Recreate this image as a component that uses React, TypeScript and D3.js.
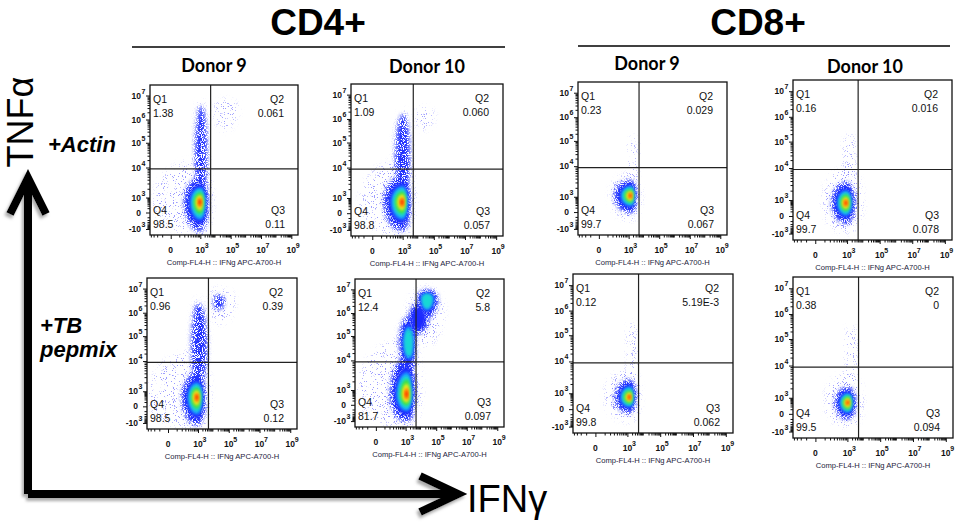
import { useEffect, useRef } from 'react';
import * as d3 from 'd3';

// one cell population: [ifngMin, ifngCore, ifngMax, tnfMin, tnfCore, tnfMax, densityLevel]
type Pop = [number, number, number, number, number, number, number];

const groups = ['CD4+', 'CD8+'];
const donors = ['Donor 9', 'Donor 10'];
const conditions = [['+Actin'], ['+TB', 'pepmix']];
const xTicks = [0, 1e3, 1e5, 1e7, 1e9];
const xTickExp = ['', '3', '5', '7', '9'];
const yTicks = [-1e3, 0, 1e3, 1e4, 1e5, 1e6, 1e7];
const yTickExp = ['3', '', '3', '4', '5', '6', '7'];
const axisTitle = 'Comp-FL4-H :: IFNg APC-A700-H';

// panels: CD4 D9, CD4 D10, CD8 D9, CD8 D10 (actin row), then the same for TB pepmix
const q1Values = ['1.38', '1.09', '0.23', '0.16', '0.96', '12.4', '0.12', '0.38'];
const q2Values = ['0.061', '0.060', '0.029', '0.016', '0.39', '5.8', '5.19E-3', '0'];
const q3Values = ['0.11', '0.057', '0.067', '0.078', '0.12', '0.097', '0.062', '0.094'];
const q4Values = ['98.5', '98.8', '99.7', '99.7', '98.5', '81.7', '99.8', '99.5'];

const ifngGate = 5000;
const tnfGate = 9000;

const cd4Donor9Actin: Pop[] = [
  [-300, 1000, 6000, -2500, 435, 20000, 0],
  [580, 1100, 3300, 1500, 2e4, 6.5e6, 1],
  [9300, 34000, 3e5, 3.5e5, 3.2e6, 6.5e6, 0],
  [150, 1000, 4300, -2500, 435, 5700, 6],
];
const cd4Donor10Actin: Pop[] = [
  [-150, 1000, 6000, -2500, 480, 20000, 0],
  [470, 1100, 3400, 1500, 2e4, 2.5e6, 1],
  [7500, 18000, 1e5, 3.5e5, 1.5e6, 2.8e6, 0],
  [105, 1000, 3900, -2000, 480, 7000, 6],
];
const cd8Donor9Actin: Pop[] = [
  [160, 1450, 6000, -220, 1100, 5700, 0],
  [1000, 2000, 3900, 3000, 4e4, 1.6e5, 0],
  [195, 1450, 3900, -60, 1100, 4200, 6],
];
const cd8Donor10Actin: Pop[] = [
  [80, 1000, 9300, -850, 600, 1e4, 0],
  [760, 1600, 3300, 4000, 4e4, 2e5, 0],
  [200, 930, 3900, -290, 600, 4400, 6],
];
const cd4Donor9Tb: Pop[] = [
  [-400, 930, 6000, -2500, 320, 25000, 0],
  [500, 1100, 4800, 1500, 3e4, 4e6, 1],
  [6000, 17000, 2.5e5, 3.5e5, 3e6, 1e7, 0],
  [10000, 20000, 60000, 1.2e6, 3e6, 6e6, 1],
  [160, 930, 3900, -2500, 320, 5200, 6],
];
const cd4Donor10Tb: Pop[] = [
  [-330, 1250, 11000, -2500, 435, 8e4, 0],
  [1600, 18000, 3e5, 4e4, 1.5e6, 1.2e7, 0],
  [500, 1800, 5500, 3000, 6e4, 1e6, 3],
  [1500, 6000, 40000, 1e5, 6e5, 3e6, 2],
  [5000, 25000, 1.6e5, 5e5, 4e6, 1.1e7, 3],
  [160, 1250, 5300, -2000, 435, 2e4, 6],
];
const cd8Donor9Tb: Pop[] = [
  [105, 1450, 6000, -450, 500, 5700, 0],
  [1000, 2000, 3900, 3000, 4e4, 3.5e5, 0],
  [265, 1450, 3900, -130, 500, 3200, 6],
];
const cd8Donor10Tb: Pop[] = [
  [105, 1100, 9300, -450, 435, 5700, 0],
  [880, 1600, 3900, 3000, 4e4, 3.5e5, 0],
  [275, 1100, 3900, -180, 435, 2500, 6],
];

const populations = [
  cd4Donor9Actin, cd4Donor10Actin, cd8Donor9Actin, cd8Donor10Actin,
  cd4Donor9Tb, cd4Donor10Tb, cd8Donor9Tb, cd8Donor10Tb,
];

// plot frames [x, y, w, h]
const frames = [
  [150, 85, 148, 150], [351, 84, 152, 152], [578, 82, 149, 153], [793, 80, 159, 160],
  [147, 278, 150, 151], [355, 279, 149, 148], [573, 274, 160, 159], [793, 277, 160, 161],
];
const xFrac = [0.14, 0.34, 0.545, 0.75, 0.955];
const yFrac = [0.96, 0.85, 0.75, 0.55, 0.385, 0.23, 0.07];

// biexponential-ish display transform
const biex = (v: number) => Math.sign(v) * Math.log10(1 + Math.abs(v) / 100);

const densityLayers = [
  { min: 1, k: 0.9, fill: '#2434ff', filter: 'url(#speckleDense)' },
  { min: 2, k: 0.68, fill: '#1a2cff', filter: 'url(#soft)' },
  { min: 3, k: 0.54, fill: '#1a9cff', filter: 'url(#soft)' },
  { min: 3, k: 0.45, fill: '#12d8d4', filter: 'url(#soft)' },
  { min: 4, k: 0.36, fill: '#3ce040', filter: 'url(#soft)' },
  { min: 5, k: 0.26, fill: '#f2f020', filter: 'url(#soft)' },
  { min: 6, k: 0.17, fill: '#ff8a00', filter: 'url(#soft)' },
  { min: 6, k: 0.09, fill: '#ff1e00', filter: 'url(#soft)' },
];

const FONT = 'Liberation Sans, Arial, sans-serif';

export default function App() {
  const svgRef = useRef<SVGSVGElement>(null);

  useEffect(() => {
    if (!svgRef.current) return;
    const svg = d3.select(svgRef.current);
    svg.selectAll('*').remove();

    const defs = svg.append('defs');

    const speckle = (id: string, slope: number, offset: number, blur: number) => {
      const f = defs.append('filter').attr('id', id)
        .attr('x', '-30%').attr('y', '-30%').attr('width', '160%').attr('height', '160%')
        .attr('color-interpolation-filters', 'sRGB');
      f.append('feGaussianBlur').attr('in', 'SourceGraphic').attr('stdDeviation', blur).attr('result', 'b');
      f.append('feTurbulence').attr('type', 'fractalNoise').attr('baseFrequency', 1.1)
        .attr('numOctaves', 2).attr('seed', 4).attr('result', 'n');
      f.append('feColorMatrix').attr('in', 'n').attr('type', 'matrix')
        .attr('values', `0 0 0 0 0  0 0 0 0 0  0 0 0 0 0  ${slope} 0 0 0 ${offset}`).attr('result', 'm');
      f.append('feComposite').attr('in', 'b').attr('in2', 'm').attr('operator', 'in');
    };
    speckle('speckleSparse', 20, -12.8, 3);
    speckle('speckleDense', 14, -5.8, 2);

    defs.append('filter').attr('id', 'soft')
      .attr('x', '-40%').attr('y', '-40%').attr('width', '180%').attr('height', '180%')
      .append('feGaussianBlur').attr('stdDeviation', 1.6);

    const shadow = defs.append('filter').attr('id', 'shadow')
      .attr('x', '-20%').attr('y', '-20%').attr('width', '140%').attr('height', '140%');
    shadow.append('feDropShadow').attr('dx', -2).attr('dy', 3).attr('stdDeviation', 1.5)
      .attr('flood-color', '#888').attr('flood-opacity', 0.7);

    // Panels
    frames.forEach(([x0, y0, w, h], i) => {
      const xs = d3.scaleLinear().domain(xTicks.map(biex)).range(xFrac.map(f => x0 + f * w));
      const ys = d3.scaleLinear().domain(yTicks.map(biex)).range(yFrac.map(f => y0 + f * h));
      const X = (v: number) => xs(biex(v));
      const Y = (v: number) => ys(biex(v));

      const g = svg.append('g');
      defs.append('clipPath').attr('id', `clip${i}`)
        .append('rect').attr('x', x0).attr('y', y0).attr('width', w).attr('height', h);
      const plot = g.append('g').attr('clip-path', `url(#clip${i})`);

      plot.append('rect').attr('x', x0).attr('y', y0).attr('width', w).attr('height', h).attr('fill', '#fff');

      populations[i].forEach(([a, cxv, b, c, cyv, d, lvl]) => {
        const cx = X(cxv), cy = Y(cyv);
        const L = cx - X(a), R = X(b) - cx, T = cy - Y(d), B = Y(c) - cy;
        const shape = (k: number) =>
          `M${cx + R * k},${cy}` +
          `A${R * k},${T * k} 0 0 0 ${cx},${cy - T * k}` +
          `A${L * k},${T * k} 0 0 0 ${cx - L * k},${cy}` +
          `A${L * k},${B * k} 0 0 0 ${cx},${cy + B * k}` +
          `A${R * k},${B * k} 0 0 0 ${cx + R * k},${cy}Z`;
        plot.append('path').attr('d', shape(1)).attr('fill', '#4a4aff')
          .attr('opacity', 0.55).attr('filter', 'url(#speckleSparse)');
        densityLayers.filter(l => lvl >= l.min).forEach(l => {
          plot.append('path').attr('d', shape(l.k)).attr('fill', l.fill).attr('filter', l.filter);
        });
      });

      // quadrant gates
      plot.append('line').attr('x1', X(ifngGate)).attr('x2', X(ifngGate))
        .attr('y1', y0).attr('y2', y0 + h).attr('stroke', '#222').attr('stroke-width', 1.2);
      plot.append('line').attr('x1', x0).attr('x2', x0 + w)
        .attr('y1', Y(tnfGate)).attr('y2', Y(tnfGate)).attr('stroke', '#222').attr('stroke-width', 1.2);

      g.append('rect').attr('x', x0).attr('y', y0).attr('width', w).attr('height', h)
        .attr('fill', 'none').attr('stroke', '#111').attr('stroke-width', 1.3);

      // axes (major + minor ticks)
      const xMinor: number[] = [];
      for (let v = -400; v < 0; v += 100) xMinor.push(v);
      for (let v = 100; v < 1000; v += 100) xMinor.push(v);
      for (let k = 3; k < 9; k++) for (let m = 2; m < 10; m++) xMinor.push(m * 10 ** k);
      const yMinor: number[] = [];
      for (let v = -900; v < 0; v += 100) yMinor.push(v);
      for (let v = 100; v < 1000; v += 100) yMinor.push(v);
      for (let k = 3; k < 7; k++) for (let m = 2; m < 10; m++) yMinor.push(m * 10 ** k);

      const inX = (v: number) => X(v) >= x0 && X(v) <= x0 + w;
      const inY = (v: number) => Y(v) >= y0 && Y(v) <= y0 + h;

      const styleAxis = (s: d3.Selection<SVGGElement, unknown, null, undefined>) => {
        s.select('.domain').remove();
        s.selectAll('.tick line').attr('stroke', '#111').attr('stroke-width', 1);
      };
      g.append('g').attr('transform', `translate(0,${y0 + h})`)
        .call(d3.axisBottom(xs).tickValues(xTicks.map(biex)).tickSize(4).tickFormat(() => ''))
        .call(styleAxis);
      g.append('g').attr('transform', `translate(0,${y0 + h})`)
        .call(d3.axisBottom(xs).tickValues(xMinor.filter(inX).map(biex)).tickSize(2.5).tickFormat(() => ''))
        .call(styleAxis);
      g.append('g').attr('transform', `translate(${x0},0)`)
        .call(d3.axisLeft(ys).tickValues(yTicks.map(biex)).tickSize(4).tickFormat(() => ''))
        .call(styleAxis);
      g.append('g').attr('transform', `translate(${x0},0)`)
        .call(d3.axisLeft(ys).tickValues(yMinor.filter(inY).map(biex)).tickSize(2.5).tickFormat(() => ''))
        .call(styleAxis);

      // tick labels
      xTicks.forEach((v, j) => {
        const tx = X(v);
        g.append('text').attr('x', tx).attr('y', y0 + h + 18).attr('text-anchor', 'middle')
          .attr('font-family', FONT).attr('font-size', 8.5).attr('font-weight', 'bold').attr('fill', '#111')
          .text(v === 0 ? '0' : '10');
        if (xTickExp[j]) {
          g.append('text').attr('x', tx + 4.5).attr('y', y0 + h + 13)
            .attr('font-family', FONT).attr('font-size', 7).attr('font-weight', 'bold').attr('fill', '#111')
            .text(xTickExp[j]);
        }
      });
      yTicks.forEach((v, j) => {
        const ty = Y(v);
        g.append('text').attr('x', x0 - 9).attr('y', ty + 3).attr('text-anchor', 'end')
          .attr('font-family', FONT).attr('font-size', 8.5).attr('font-weight', 'bold').attr('fill', '#111')
          .text(v === 0 ? '0' : v < 0 ? '-10' : '10');
        if (yTickExp[j]) {
          g.append('text').attr('x', x0 - 8.5).attr('y', ty - 2)
            .attr('font-family', FONT).attr('font-size', 7).attr('font-weight', 'bold').attr('fill', '#111')
            .text(yTickExp[j]);
        }
      });

      g.append('text').attr('x', x0 + w * 0.5).attr('y', y0 + h + 30).attr('text-anchor', 'middle')
        .attr('font-family', FONT).attr('font-size', 7.6).attr('fill', '#1c1c3c')
        .text(axisTitle);

      // quadrant labels
      const qText = (x: number, y: number, anchor: string, t: string) =>
        g.append('text').attr('x', x).attr('y', y).attr('text-anchor', anchor)
          .attr('font-family', FONT).attr('font-size', 10.5).attr('fill', '#111').text(t);
      qText(x0 + 3, y0 + 18, 'start', 'Q1');
      qText(x0 + 3, y0 + 32, 'start', q1Values[i]);
      qText(x0 + w - 14, y0 + 18, 'end', 'Q2');
      qText(x0 + w - 14, y0 + 32, 'end', q2Values[i]);
      qText(x0 + w - 13, y0 + h - 21, 'end', 'Q3');
      qText(x0 + w - 13, y0 + h - 7, 'end', q3Values[i]);
      qText(x0 + 3, y0 + h - 21, 'start', 'Q4');
      qText(x0 + 3, y0 + h - 7, 'start', q4Values[i]);
    });

    // Group headers
    const groupCenters = [318, 758];
    const groupLines = [[132, 505, 47], [578, 950, 46]];
    groups.forEach((t, i) => {
      svg.append('text').attr('x', groupCenters[i]).attr('y', 35).attr('text-anchor', 'middle')
        .attr('font-family', FONT).attr('font-size', 37).attr('font-weight', 'bold').attr('fill', '#000')
        .text(t);
      const [a, b, y] = groupLines[i];
      svg.append('line').attr('x1', a).attr('x2', b).attr('y1', y).attr('y2', y)
        .attr('stroke', '#000').attr('stroke-width', 1.5);
    });

    const donorPos = [[214, 72], [427, 73], [647, 70], [865, 73]];
    donorPos.forEach(([x, y], i) => {
      svg.append('text').attr('x', x).attr('y', y).attr('text-anchor', 'middle')
        .attr('font-family', 'Lato, Open Sans, sans-serif').attr('font-size', 18).attr('font-weight', 'bold')
        .attr('fill', '#000').text(donors[i % 2]);
    });

    const condPos = [[48, 152], [40, 333]];
    conditions.forEach((lines, i) => {
      lines.forEach((t, j) => {
        svg.append('text').attr('x', condPos[i][0]).attr('y', condPos[i][1] + j * 24)
          .attr('font-family', FONT).attr('font-size', 22).attr('font-weight', 'bold')
          .attr('font-style', 'italic').attr('fill', '#000').text(t);
      });
    });

    // Axis arrows
    const arrows = svg.append('g').attr('filter', 'url(#shadow)')
      .attr('fill', 'none').attr('stroke', '#000').attr('stroke-width', 8);
    arrows.append('path').attr('d', 'M28,494L28,180M456,494L28,494');
    arrows.append('path').attr('d', 'M10,214L28,178L46,214').attr('stroke-linejoin', 'miter');
    arrows.append('path').attr('d', 'M420,476L458,494L420,512').attr('stroke-linejoin', 'miter');

    svg.append('text').attr('transform', 'translate(33,122) rotate(-90)').attr('text-anchor', 'middle')
      .attr('font-family', FONT).attr('font-size', 36).attr('fill', '#000').text('TNFα');
    svg.append('text').attr('x', 467).attr('y', 512)
      .attr('font-family', FONT).attr('font-size', 38).attr('fill', '#000').text('IFNγ');
  }, []);

  return (
    <svg
      ref={svgRef}
      width={957}
      height={527}
      style={{ position: 'absolute', left: 0, top: 0, background: '#fff' }}
    />
  );
}
